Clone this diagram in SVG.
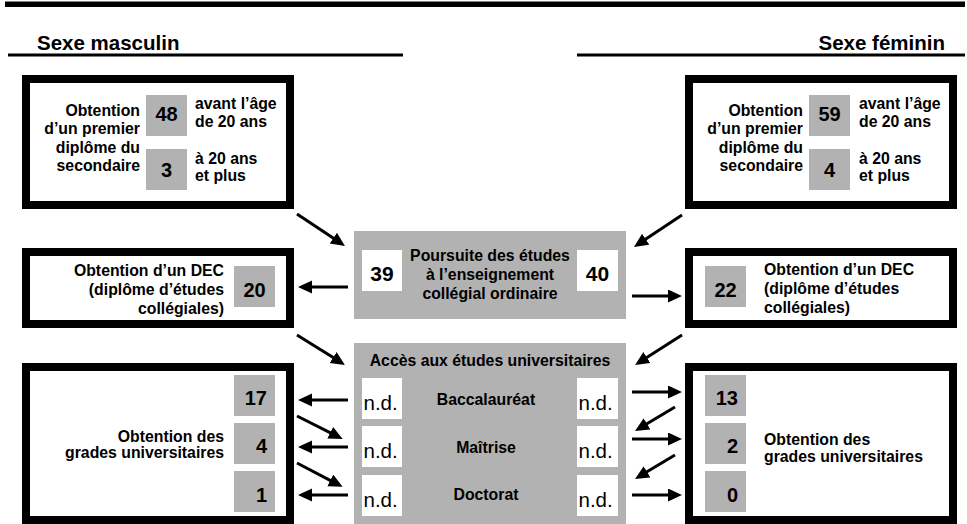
<svg xmlns="http://www.w3.org/2000/svg" width="967" height="524" viewBox="0 0 967 524">
<defs>
<marker id="ah" markerUnits="userSpaceOnUse" markerWidth="16" markerHeight="14" refX="2" refY="6.5" orient="auto">
<path d="M0,0 L14,6.5 L0,13 Z" fill="#000"/>
</marker>
<style>
.frame{fill:#fff;stroke:#000;stroke-width:8}
.grey{fill:#b2b2b2}
.white{fill:#fff}
.t{font-family:"Liberation Sans",Arial,sans-serif;font-weight:bold;font-size:15.8px;fill:#000}
.num{font-family:"Liberation Sans",Arial,sans-serif;font-weight:bold;font-size:20px;fill:#000}
.nd{font-family:"Liberation Sans",Arial,sans-serif;font-size:20.5px;fill:#000}
.head{font-family:"Liberation Sans",Arial,sans-serif;font-weight:bold;font-size:20.5px;fill:#000}
.e{text-anchor:end}
.m{text-anchor:middle}
.conn line{stroke:#000;stroke-width:3;marker-end:url(#ah)}
</style>
</defs>
<rect x="5" y="1.5" width="960" height="5.5" fill="#000"/>
<g id="header-m">
<text class="head" x="37" y="50">Sexe masculin</text>
<rect x="8" y="53.5" width="395" height="3" fill="#000"/>
</g>
<g id="header-f">
<text class="head e" x="945" y="50">Sexe féminin</text>
<rect x="577" y="53.5" width="388" height="3" fill="#000"/>
</g>

<g id="sec-m">
<rect class="frame" x="26" y="79" width="264" height="126"/>
<text class="t e" x="140" y="115.5">Obtention</text>
<text class="t e" x="140" y="134">d’un premier</text>
<text class="t e" x="140" y="152.5">diplôme du</text>
<text class="t e" x="140" y="171">secondaire</text>
<rect class="grey" x="146" y="95" width="41" height="41"/>
<text class="num m" x="166.5" y="120.5">48</text>
<rect class="grey" x="146" y="149" width="41" height="41"/>
<text class="num m" x="166.5" y="176.5">3</text>
<text class="t" x="195" y="108.5">avant l’âge</text>
<text class="t" x="195" y="126.5">de 20 ans</text>
<text class="t" x="195" y="164">à 20 ans</text>
<text class="t" x="195" y="181">et plus</text>
</g>

<g id="sec-f">
<rect class="frame" x="689" y="79" width="264" height="126"/>
<text class="t e" x="803" y="115.5">Obtention</text>
<text class="t e" x="803" y="134">d’un premier</text>
<text class="t e" x="803" y="152.5">diplôme du</text>
<text class="t e" x="803" y="171">secondaire</text>
<rect class="grey" x="809" y="95" width="41" height="41"/>
<text class="num m" x="829.5" y="120.5">59</text>
<rect class="grey" x="809" y="149" width="41" height="41"/>
<text class="num m" x="829.5" y="176.5">4</text>
<text class="t" x="859" y="108.5">avant l’âge</text>
<text class="t" x="859" y="126.5">de 20 ans</text>
<text class="t" x="859" y="164">à 20 ans</text>
<text class="t" x="859" y="181">et plus</text>
</g>

<g id="dec-m">
<rect class="frame" x="26" y="252" width="264" height="72"/>
<text class="t e" x="224" y="276">Obtention d’un DEC</text>
<text class="t e" x="224" y="295">(diplôme d’études</text>
<text class="t e" x="224" y="314">collégiales)</text>
<rect class="grey" x="234" y="266" width="41" height="41"/>
<text class="num m" x="254.5" y="296.5">20</text>
</g>

<g id="dec-f">
<rect class="frame" x="689" y="252" width="264" height="72"/>
<rect class="grey" x="705" y="266" width="41" height="41"/>
<text class="num m" x="725.5" y="296.5">22</text>
<text class="t" x="764" y="275">Obtention d’un DEC</text>
<text class="t" x="764" y="294">(diplôme d’études</text>
<text class="t" x="764" y="313">collégiales)</text>
</g>

<g id="college">
<rect class="grey" x="354" y="231" width="272" height="88"/>
<rect class="white" x="362" y="250" width="40" height="41"/>
<text class="num m" x="382" y="281" style="font-size:21px">39</text>
<rect class="white" x="577" y="250" width="41" height="41"/>
<text class="num m" x="597.5" y="281" style="font-size:21px">40</text>
<text class="t m" x="490" y="261">Poursuite des études</text>
<text class="t m" x="490" y="280">à l’enseignement</text>
<text class="t m" x="490" y="298.5">collégial ordinaire</text>
</g>

<g id="universite">
<rect class="grey" x="354" y="343" width="272" height="181"/>
<text class="t m" x="490" y="366">Accès aux études universitaires</text>
<rect class="white" x="362" y="378" width="40" height="41"/>
<rect class="white" x="362" y="426" width="40" height="41"/>
<rect class="white" x="362" y="475" width="40" height="41"/>
<rect class="white" x="577" y="378" width="41" height="41"/>
<rect class="white" x="577" y="426" width="41" height="41"/>
<rect class="white" x="577" y="475" width="41" height="41"/>
<text class="nd" x="363.5" y="409.5">n.d.</text>
<text class="nd" x="363.5" y="458">n.d.</text>
<text class="nd" x="363.5" y="507">n.d.</text>
<text class="nd" x="578.5" y="409.5">n.d.</text>
<text class="nd" x="578.5" y="458">n.d.</text>
<text class="nd" x="578.5" y="507">n.d.</text>
<text class="t m" x="486" y="404.5">Baccalauréat</text>
<text class="t m" x="486" y="452.5">Maîtrise</text>
<text class="t m" x="486" y="500">Doctorat</text>
</g>

<g id="grades-m">
<rect class="frame" x="26" y="367" width="264" height="153"/>
<text class="t e" x="224" y="441.5">Obtention des</text>
<text class="t e" x="224" y="457.5">grades universitaires</text>
<rect class="grey" x="234" y="375" width="41" height="41"/>
<rect class="grey" x="234" y="423" width="41" height="41"/>
<rect class="grey" x="234" y="471" width="41" height="41"/>
<text class="num e" x="267" y="405">17</text>
<text class="num e" x="267" y="453">4</text>
<text class="num e" x="267" y="502">1</text>
</g>

<g id="grades-f">
<rect class="frame" x="689" y="367" width="264" height="153"/>
<rect class="grey" x="705" y="375" width="41" height="41"/>
<rect class="grey" x="705" y="423" width="41" height="41"/>
<rect class="grey" x="705" y="471" width="41" height="41"/>
<text class="num e" x="738" y="405">13</text>
<text class="num e" x="738" y="453">2</text>
<text class="num e" x="738" y="502">0</text>
<text class="t" x="764" y="444.5">Obtention des</text>
<text class="t" x="764" y="462">grades universitaires</text>
</g>

<g id="connectors" class="conn">
<line x1="297" y1="214" x2="335" y2="239.3"/>
<line x1="682" y1="215" x2="644" y2="240.3"/>
<line x1="348" y1="287" x2="310" y2="287"/>
<line x1="632" y1="296" x2="670" y2="296"/>
<line x1="297" y1="335" x2="334.8" y2="358.6"/>
<line x1="682" y1="335" x2="645.2" y2="358.6"/>
<line x1="348" y1="400" x2="310" y2="400"/>
<line x1="297" y1="416" x2="332" y2="433.7"/>
<line x1="348" y1="447" x2="310" y2="447"/>
<line x1="297" y1="463" x2="332" y2="481.3"/>
<line x1="348" y1="495" x2="310" y2="495"/>
<line x1="632" y1="392" x2="670" y2="392"/>
<line x1="675" y1="407" x2="645.3" y2="424.8"/>
<line x1="632" y1="439" x2="670" y2="439"/>
<line x1="675" y1="455" x2="645.3" y2="472.8"/>
<line x1="632" y1="495" x2="670" y2="495"/>
</g>
</svg>
